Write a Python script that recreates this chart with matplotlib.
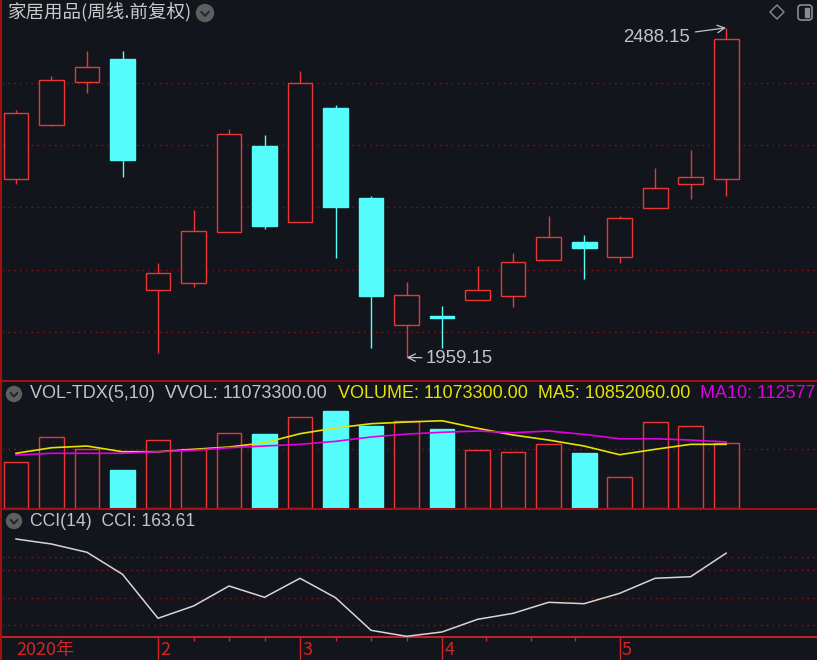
import numpy as np
import matplotlib.pyplot as plt
from matplotlib.patches import Rectangle, Circle, Polygon, FancyBboxPatch
from matplotlib.transforms import blended_transform_factory

# weekly candles, 家居用品 index, Jan - May 2020
opens  = [2245, 2332, 2401, 2438, 2067, 2079, 2161, 2299, 2177, 2359, 2215,
          2012, 2024, 2052, 2058, 2115, 2145, 2120, 2199, 2237, 2245]
highs  = [2357, 2410, 2451, 2451, 2111, 2196, 2325, 2316, 2419, 2364, 2218,
          2080, 2042, 2106, 2126, 2186, 2155, 2186, 2263, 2292, 2488.15]
lows   = [2237, 2331, 2384, 2249, 1966, 2072, 2160, 2165, 2176, 2119, 1975,
          1959.15, 1975, 2052, 2040, 2115, 2085, 2110, 2199, 2213, 2218]
closes = [2352, 2404, 2426, 2276, 2094, 2162, 2318, 2170, 2400, 2201, 2058,
          2060, 2022, 2067, 2113, 2152, 2134, 2183, 2231, 2248, 2470]

# volume and its moving averages (millions)
vols = [7.79, 12.10, 10.00, 6.52, 11.58, 10.00, 12.83, 12.66, 15.45, 16.47, 13.97,
        14.87, 13.41, 9.83, 9.54, 10.85, 9.30, 5.33, 14.65, 13.92, 11.0733]
ma5  = [9.32, 10.27, 10.56, 9.59, 9.59, 10.00, 10.39, 11.12, 12.66, 13.63, 14.36,
        14.65, 14.87, 13.58, 12.44, 11.58, 10.56, 9.08, 10.00, 10.85, 10.852]
ma10 = [9.03, 9.32, 9.32, 9.32, 9.59, 9.83, 10.27, 10.56, 10.85, 11.36, 12.10,
        12.60, 12.90, 13.12, 12.83, 13.12, 12.55, 11.80, 11.80, 11.58, 11.258]

cci = [215.8, 197.4, 166.9, 86.0, -75.7, -30.5, 43.0, 1.5, 71.3, 0.0, -119.9,
       -142.0, -126.0, -79.5, -57.5, -17.0, -22.0, 16.0, 71.3, 77.2, 163.61]

month_pos = [4, 8, 12, 17]
month_labels = ['2', '3', '4', '5']

BG = '#12151c'
UP = '#ec3636'
DOWN = '#55fcfc'
GRID = '#8c0d0d'
SEP = '#a01212'
AXR = '#d42424'
TXT = '#c4c4c4'
CJK = ['Noto Sans CJK SC', 'DejaVu Sans']
LAT = ['Liberation Sans', 'DejaVu Sans']

W, H = 817, 660
fig = plt.figure(figsize=(W / 100, H / 100), dpi=100, facecolor=BG)


def px_axes(x0, y0, x1, y1):
    a = fig.add_axes([x0 / W, 1 - y1 / H, (x1 - x0) / W, (y1 - y0) / H])
    a.set_facecolor(BG)
    for s in a.spines.values():
        s.set_visible(False)
    a.tick_params(left=False, bottom=False, labelleft=False, labelbottom=False)
    a.set_xlim(-0.394, 22.56)
    return a


x = np.arange(len(opens))
dots = (0, (1.2, 3.0))

# ---- price panel
ax = px_axes(2, 25, 817, 381)
ax.set_ylim(1921.4, 2492.6)
ax.set_yticks([2000, 2100, 2200, 2300, 2400])
ax.grid(axis='y', color=GRID, ls=dots, lw=1.0)
ax.set_axisbelow(True)
for i in x:
    o, h, l, c = opens[i], highs[i], lows[i], closes[i]
    col = UP if c >= o else DOWN
    ax.vlines(i, l, h, color=col, lw=1.0, zorder=2)
    ax.add_patch(Rectangle((i - 0.35, min(o, c)), 0.7, max(abs(c - o), 3.0),
                           facecolor=BG if c >= o else col, edgecolor=col,
                           lw=1.0, zorder=3))

imax = int(np.argmax(highs))
imin = int(np.argmin(lows))
ax.annotate(f'{highs[imax]:.2f}', xy=(imax, highs[imax]), xytext=(imax - 1.02, 2473),
            ha='right', va='center', color=TXT, fontsize=13.4, family=LAT,
            arrowprops=dict(arrowstyle='->', color=TXT, lw=0.9, shrinkA=2, shrinkB=0))
ax.annotate(f'{lows[imin]:.2f}', xy=(imin, lows[imin]), xytext=(imin + 0.55, 1958),
            ha='left', va='center', color=TXT, fontsize=13.4, family=LAT,
            arrowprops=dict(arrowstyle='->', color=TXT, lw=0.9, shrinkA=1, shrinkB=0))

# ---- volume panel
av = px_axes(2, 381, 817, 509)
av.set_ylim(-0.17, 21.64)
av.set_yticks([10])
av.grid(axis='y', color=GRID, ls=dots, lw=1.0)
av.set_axisbelow(True)
up = np.array(closes) >= np.array(opens)
av.bar(x, vols, width=0.7, color=[BG if u else DOWN for u in up],
       edgecolor=[UP if u else DOWN for u in up], lw=1.0, zorder=2)
av.plot(x, ma5, color='#e4e400', lw=1.2, zorder=3)
av.plot(x, ma10, color='#e000e0', lw=1.2, zorder=4)

# ---- CCI panel
ac = px_axes(2, 509, 817, 637)
ac.set_ylim(-144.5, 326.1)
ac.set_yticks([-100, 0, 100, 150])
ac.grid(axis='y', color=GRID, ls=dots, lw=1.0)
ac.set_axisbelow(True)
ac.plot(x, cci, color='#d6d6d6', lw=1.1, zorder=3)
ac.spines['bottom'].set_visible(True)
ac.spines['bottom'].set_color(AXR)
ac.spines['bottom'].set_linewidth(1.3)
ac.set_xticks(month_pos)
ac.set_xticks([5, 6, 7, 9, 10, 11, 13.25, 14.5, 15.75], minor=True)
ac.tick_params(axis='x', which='major', bottom=True, direction='out',
               length=17, width=1.0, color=AXR)
ac.tick_params(axis='x', which='minor', bottom=True, direction='out',
               length=3, width=1.0, color=AXR)
tr = blended_transform_factory(ac.transData, ac.transAxes)
ac.text(0.0, -0.105, '2020年', transform=tr, ha='left', va='center',
        color=AXR, fontsize=13, family=CJK)
for p, lab in zip(month_pos, month_labels):
    ac.text(p + 0.06, -0.105, lab, transform=tr, ha='left', va='center',
            color=AXR, fontsize=13, family=CJK)

# ---- overlay: headers, separators, icons
ov = fig.add_axes([0, 0, 1, 1])
ov.set_xlim(0, W)
ov.set_ylim(H, 0)
ov.axis('off')
ov.patch.set_alpha(0)

ov.vlines(1.5, 0, H, color=SEP, lw=1.5)
ov.hlines([381, 509], 2, W, color=SEP, lw=1.5)

ov.text(8, 13, '家居用品(周线.前复权)', color='#cacaca', fontsize=13.3,
        family=CJK, va='center', ha='left')


def chevron(cx, cy, r):
    ov.add_patch(Circle((cx, cy), r, color='#5e5e5e', zorder=5))
    ov.plot([cx - r * 0.45, cx, cx + r * 0.45], [cy - r * 0.15, cy + r * 0.35, cy - r * 0.15],
            color='#23252b', lw=1.4, zorder=6, solid_capstyle='round')


chevron(205, 13, 8.5)
chevron(14, 394, 7.5)
chevron(14, 521, 7.5)

ov.add_patch(Polygon([(777, 5), (784, 12), (777, 19), (770, 12)], closed=True,
                     fill=False, edgecolor='#8c8c8c', lw=1.0))
ov.add_patch(FancyBboxPatch((798, 5), 14, 15, boxstyle='round,pad=0,rounding_size=3',
                            fill=False, edgecolor='#8c8c8c', lw=1.2))
ov.add_patch(Rectangle((805, 8), 4.5, 9, color='#8c8c8c'))

hdr = dict(fontsize=13, family=LAT, va='center', ha='left')
ov.text(30, 394, 'VOL-TDX(5,10)  VVOL: 11073300.00', color=TXT, **hdr)
ov.text(338, 394, 'VOLUME: 11073300.00  MA5: 10852060.00', color='#e4e400', **hdr)
ov.text(700, 394, 'MA10: 112577', color='#e000e0', **hdr)
ov.text(30, 521, 'CCI(14)  CCI: 163.61', color=TXT, fontsize=12.7, family=LAT,
        va='center', ha='left')

fig.savefig('out.png', dpi=100, facecolor=BG)
